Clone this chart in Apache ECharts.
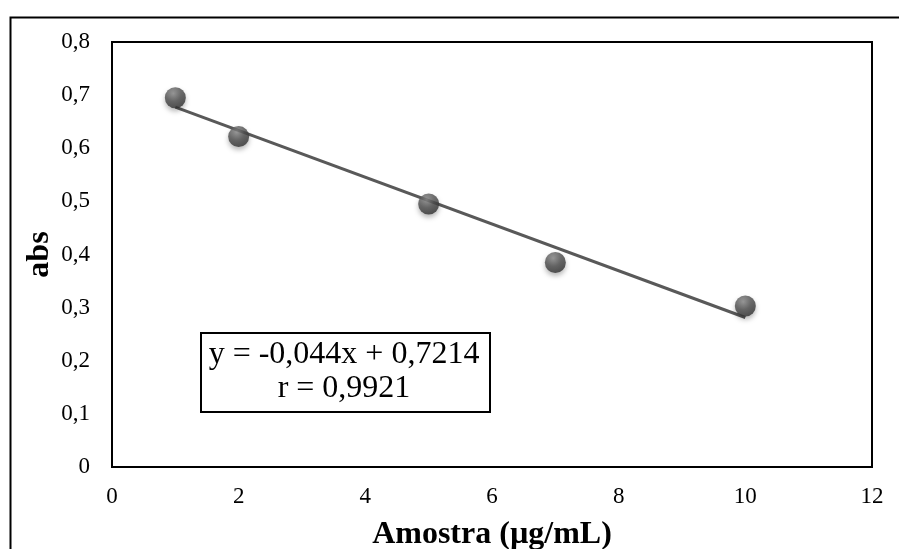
<!DOCTYPE html>
<html>
<head>
<meta charset="utf-8">
<script src="https://cdn.jsdelivr.net/npm/echarts@6/dist/echarts.min.js"></script>
<style>
html,body{margin:0;padding:0;background:#fff;}
#c{width:899px;height:549px;}
</style>
</head>
<body>
<div id="c"></div>
<script>
var concentrations = [1, 2, 5, 7, 10];
var absorbances = [0.695, 0.622, 0.495, 0.385, 0.303];
var trendX = [1, 10];
var trendY = [0.6774, 0.2814];
var equationText = 'y = -0,044x + 0,7214';
var rText = 'r = 0,9921';
var xTitle = 'Amostra (µg/mL)';
var yTitle = 'abs';

var font = 'Liberation Serif';
var chart = echarts.init(document.getElementById('c'));

var pts = concentrations.map(function (x, i) { return [x, absorbances[i]]; });
var trend = trendX.map(function (x, i) { return [x, trendY[i]]; });

chart.setOption({
  backgroundColor: '#fff',
  animation: false,
  grid: { left: 112, top: 42, right: 27, bottom: 82, show: true, borderColor: '#000', borderWidth: 2, backgroundColor: 'transparent', containLabel: false, outerBoundsMode: 'none' },
  xAxis: {
    type: 'value', min: 0, max: 12, interval: 2,
    axisLine: { show: false }, axisTick: { show: false }, splitLine: { show: false },
    axisLabel: { fontFamily: font, fontSize: 23, color: '#000', margin: 18 },
    name: xTitle, nameLocation: 'middle', nameGap: 52, nameMoveOverlap: false,
    nameTextStyle: { fontFamily: font, fontSize: 32, fontWeight: 'bold', color: '#000' }
  },
  yAxis: {
    type: 'value', min: 0, max: 0.8, interval: 0.1,
    axisLine: { show: false }, axisTick: { show: false }, splitLine: { show: false },
    axisLabel: { fontFamily: font, fontSize: 23, color: '#000', margin: 22,
      formatter: function (v) { return String(Math.round(v * 10) / 10).replace('.', ','); } },
    name: yTitle, nameLocation: 'middle', nameGap: 56, nameRotate: 90, nameMoveOverlap: false,
    nameTextStyle: { fontFamily: font, fontSize: 32, fontWeight: 'bold', color: '#000' }
  },
  series: [
    {
      type: 'line', data: trend, symbol: 'none', z: 2,
      lineStyle: { color: '#595959', width: 3 }
    },
    {
      type: 'scatter', data: pts, symbol: 'circle', symbolSize: 21, z: 3,
      itemStyle: {
        color: {
          type: 'radial', x: 0.4, y: 0.3, r: 0.75,
          colorStops: [
            { offset: 0, color: '#8a8a8a' },
            { offset: 0.5, color: '#4f4f4f' },
            { offset: 1, color: '#2e2e2e' }
          ]
        },
        shadowColor: 'rgba(0,0,0,0.35)', shadowBlur: 5, shadowOffsetY: 3
      }
    }
  ],
  graphic: [
    {
      type: 'rect', left: 8, top: 15, z: 0,
      shape: { width: 1000, height: 700 },
      style: { fill: 'none', stroke: '#000', lineWidth: 2 }
    },
    {
      type: 'rect', left: 200, top: 332, z: 10,
      shape: { width: 289, height: 79 },
      style: { fill: '#fff', stroke: '#000', lineWidth: 2 }
    },
    {
      type: 'text', z: 11, x: 344, y: 355,
      style: { text: equationText, font: '32px "Liberation Serif"', fill: '#000', textAlign: 'center', textVerticalAlign: 'middle' }
    },
    {
      type: 'text', z: 11, x: 344, y: 389,
      style: { text: rText, font: '32px "Liberation Serif"', fill: '#000', textAlign: 'center', textVerticalAlign: 'middle' }
    }
  ]
});
</script>
</body>
</html>
